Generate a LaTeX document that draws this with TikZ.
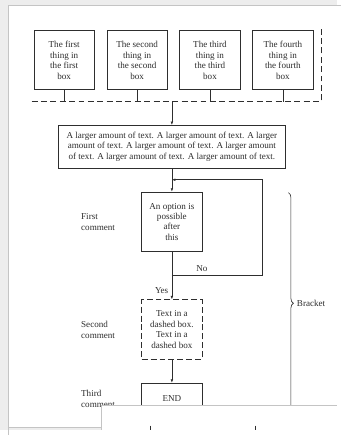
\documentclass[tikz,border=0pt]{standalone}
\usepackage{fontspec}
\setmainfont{Liberation Serif}
\usetikzlibrary{arrows.meta,calc,positioning,decorations.pathreplacing}
\definecolor{ink}{HTML}{2E2E2E}
\definecolor{paper}{HTML}{EDEDED}
\definecolor{edge}{HTML}{C4C4C4}

\begin{document}
\begin{tikzpicture}[x=1pt,y=-1pt,>={Latex[length=3.5pt,width=2.6pt]},
  node distance=12pt,
  every node/.style={font=\fontsize{9.2}{10.6}\selectfont,text=ink},
  thing/.style={draw=ink,thick,align=center,minimum width=61pt,minimum height=60pt,inner sep=1pt},
  dashbox/.style={thing,dash pattern=on 6pt off 3pt},
  wide/.style={draw=ink,thick,align=center,minimum width=230pt,minimum height=43pt,inner sep=1pt},
  note/.style={align=left,anchor=west,inner sep=0pt},
  link/.style={draw=ink,semithick}]
% page and its shadow
\fill[paper] (0,0) rectangle (341,435);
\fill[white] (8,5) rectangle (345,432);
\draw[edge,thick] (8,440) -- (8,5) -- (345,5);
\draw[edge] (8,432) -- (103,432);
\clip (0,0) rectangle (341,435);
% top row
\node[thing] (b1) at (65,61) {The first\\thing in\\the first\\box};
\node[thing,right=of b1] (b2) {The second\\thing in\\the second\\box};
\node[thing,right=of b2] (b3) {The third\\thing in\\the third\\box};
\node[thing,right=of b3] (b4) {The fourth\\thing in\\the fourth\\box};
\coordinate (dl) at (32,103);
\coordinate (dc) at (325,103);
\coordinate (du) at (325,28);
\draw[ink,thick,dash pattern=on 6pt off 3.5pt] (dl) -- (dc) -- (du);
\foreach \b in {b1,b2,b3,b4}
  \draw[link] (\b.south) -- (\b.south |- dl);
\coordinate (top) at (174,103);
% main column
\node[wide] (big) at (174,148.5) {A larger amount of text. A larger amount of text. A larger\\amount of text. A larger amount of text. A larger amount\\of text. A larger amount of text. A larger amount of text.};
\node[thing] (opt) at (174,224.5) {An option is\\possible\\after\\this};
\node[dashbox] (dash) at (174,333.5) {Text in a\\dashed box.\\Text in a\\dashed box};
\node[thing,minimum height=30pt] (end) at (174,403) {END};
\coordinate (join) at (174,279);
\coordinate (back) at (174,182);
\draw[link,->] (top) -- (big.north);
\draw[link,->] (big.south) -- (opt.north);
\draw[link] (opt.south) -- (join);
\draw[link,->] (join) -- node[left,pos=0.62] {Yes} (dash.north);
\draw[link,->] (join) -- node[above,pos=0.33] {No} ++(92,0) |- (back);
\draw[link,->] (dash.south) -- (end.north);
% comments
\node[note] (c1) at (82,225) {First\\comment};
\node[note] (c2) at (82,334) {Second\\comment};
\node[note] (c3) at (82,404) {Third\\comment};
% bracket
\coordinate (bt) at (292,195);
\coordinate (bb) at (292,419);
\draw[link,decorate,decoration={brace,amplitude=5pt,aspect=0.5}] (bt) -- (bb)
  node[midway,right=5pt] (brk) {Bracket};
% page lying over the bottom
\fill[white] (103,410) rectangle (345,440);
\draw[edge,thick] (103,440) -- (103,410) -- (345,410);
\draw[link] (152,431) -- (152,440);
\draw[link] (258,431) -- (258,440);
\end{tikzpicture}
\end{document}
